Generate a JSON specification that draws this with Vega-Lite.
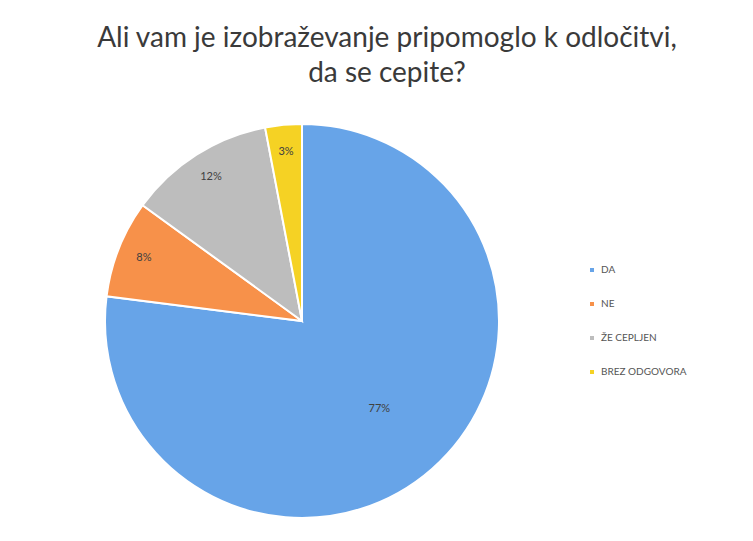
{
  "$schema": "https://vega.github.io/schema/vega-lite/v6.json",
  "width": 394,
  "height": 394,
  "padding": {"left": 96, "top": 25, "right": 0, "bottom": 0},
  "background": "#ffffff",
  "title": {
    "text": ["Ali vam je izobraževanje pripomoglo k odločitvi,", "da se cepite?"],
    "font": "Lato",
    "fontSize": 28,
    "fontWeight": "normal",
    "color": "#3a3a3a",
    "lineHeight": 35,
    "anchor": "middle",
    "dx": 85,
    "offset": 32
  },
  "data": {
    "values": [
      {"i": 1, "k": "DA", "v": 0.77},
      {"i": 2, "k": "NE", "v": 0.08},
      {"i": 3, "k": "ŽE CEPLJEN", "v": 0.12},
      {"i": 4, "k": "BREZ ODGOVORA", "v": 0.03}
    ]
  },
  "encoding": {
    "theta": {"field": "v", "type": "quantitative", "stack": true},
    "order": {"field": "i", "type": "quantitative"},
    "color": {
      "field": "k",
      "type": "nominal",
      "sort": null,
      "scale": {
        "domain": ["DA", "NE", "ŽE CEPLJEN", "BREZ ODGOVORA"],
        "range": ["#67a4e8", "#f7914a", "#bdbdbd", "#f5d224"]
      },
      "legend": {
        "title": null,
        "orient": "none",
        "legendX": 482,
        "legendY": 141,
        "symbolType": "square",
        "symbolSize": 16,
        "symbolStrokeWidth": 0,
        "labelFont": "Lato",
        "labelFontSize": 10,
        "labelColor": "#555555",
        "rowPadding": 24,
        "labelOffset": 4
      }
    }
  },
  "layer": [
    {
      "mark": {"type": "arc", "outerRadius": 197, "stroke": "#ffffff", "strokeWidth": 2}
    },
    {
      "mark": {"type": "text", "radius": 117, "font": "Lato", "fontSize": 11, "color": "#404040"},
      "encoding": {
        "text": {"condition": {"test": "datum.k === 'DA'", "field": "v", "format": ".0%"}, "value": ""},
        "color": {"value": "#404040"}
      }
    },
    {
      "mark": {"type": "text", "radius": 170, "font": "Lato", "fontSize": 11, "color": "#404040"},
      "encoding": {
        "text": {"condition": {"test": "datum.k !== 'DA'", "field": "v", "format": ".0%"}, "value": ""},
        "color": {"value": "#404040"}
      }
    }
  ],
  "config": {"view": {"stroke": null}}
}
